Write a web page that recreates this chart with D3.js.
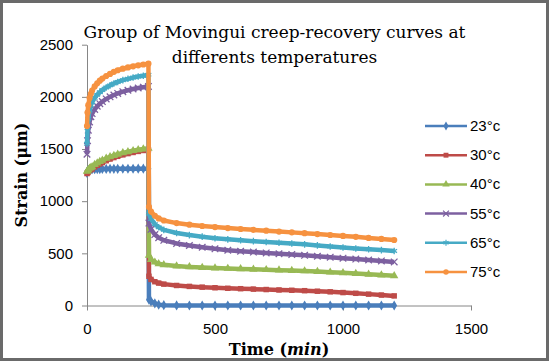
<!DOCTYPE html>
<html>
<head>
<meta charset="utf-8">
<script src="https://cdn.jsdelivr.net/npm/d3@7"></script>
<style>
  body { margin: 0; background: #fff; }
  svg { display: block; }
</style>
</head>
<body>
<div id="chart"></div>
<script>
// time in minutes: creep 0-240, recovery 242-1200
var times = [0,2,5,10,15,20,30,40,50,60,75,90,105,120,140,160,180,200,220,240,
  242,250,265,280,300,350,400,450,500,550,600,650,700,750,800,850,900,950,1000,1050,1100,1150,1200];

var s23 = [1270,1290,1298,1302,1305,1306,1307,1308,1308,1309,1309,1310,1310,1310,1311,1311,1311,1312,1312,1312,
  55,40,20,8,3,1,0,0,0,0,0,0,0,0,0,0,0,0,0,0,0,0,0];
var s30 = [1265,1272,1280,1295,1303,1310,1328,1343,1357,1370,1388,1404,1418,1430,1444,1456,1467,1477,1486,1494,
  280,250,228,215,205,192,183,176,170,165,161,157,153,149,146,142,137,131,124,117,109,100,92];
var s40 = [1285,1290,1300,1315,1323,1330,1350,1365,1380,1392,1410,1425,1438,1450,1463,1474,1484,1493,1500,1507,
  480,440,415,400,390,378,370,364,359,355,351,347,343,339,335,331,325,319,313,306,299,292,285];
var s55 = [1450,1580,1680,1760,1810,1840,1880,1910,1935,1955,1980,2000,2018,2033,2050,2063,2075,2085,2093,2100,
  790,730,680,650,625,595,575,558,543,530,520,512,504,496,489,481,472,463,454,445,436,427,418];
var s65 = [1550,1700,1790,1870,1920,1950,1990,2020,2045,2065,2090,2110,2128,2143,2160,2173,2185,2195,2203,2212,
  880,830,780,750,725,695,675,660,645,634,625,617,609,601,594,586,576,566,556,547,539,531,523];
var s75 = [1720,1850,1920,1990,2030,2060,2100,2130,2155,2175,2200,2220,2240,2255,2270,2282,2293,2302,2310,2318,
  945,900,860,835,815,790,775,762,752,742,733,725,717,709,701,693,685,676,667,658,648,638,628];

var seriesNames = ["23°c", "30°c", "40°c", "55°c", "65°c", "75°c"];
var seriesValues = [s23, s30, s40, s55, s65, s75];
var colors = ["#4A7EBB", "#BE4B48", "#98B954", "#7D60A0", "#46AAC5", "#F69240"];
var xTicks = [0, 500, 1000, 1500];
var yTicks = [0, 500, 1000, 1500, 2000, 2500];

var W = 549, H = 361;
var svg = d3.select("#chart").append("svg")
  .attr("width", W)
  .attr("height", H);

svg.append("rect")
  .attr("x", 1.5).attr("y", 1.5)
  .attr("width", W - 3).attr("height", H - 3)
  .attr("fill", "#fff")
  .attr("stroke", "#6a6a6a")
  .attr("stroke-width", 3);

var x = d3.scaleLinear().domain([0, 1500]).range([87, 471]);
var y = d3.scaleLinear().domain([0, 2500]).range([305.5, 44.7]);

// axes
var xAxis = svg.append("g")
  .attr("transform", "translate(0," + y(0) + ")")
  .call(d3.axisBottom(x).tickValues(xTicks).tickFormat(d3.format("d"))
    .tickSize(5).tickPadding(13).tickSizeOuter(0));
var yAxis = svg.append("g")
  .attr("transform", "translate(" + x(0) + ",0)")
  .call(d3.axisLeft(y).tickValues(yTicks).tickFormat(d3.format("d"))
    .tickSize(5).tickPadding(9).tickSizeOuter(0));

[xAxis, yAxis].forEach(function (a) {
  a.select(".domain").attr("stroke", "#868686");
  a.selectAll(".tick line").attr("stroke", "#868686");
  a.selectAll(".tick text")
    .attr("fill", "#000")
    .style("font-family", "'Liberation Sans', Arial, sans-serif")
    .style("font-size", "15px");
});

var symbols = [
  d3.symbolDiamond,
  d3.symbolSquare,
  d3.symbolTriangle,
  d3.symbolX || d3.symbolCross,
  d3.symbolAsterisk || d3.symbolStar,
  d3.symbolCircle
];
var strokeSym = [false, false, false, true, true, false];

var line = d3.line()
  .x(function (d) { return x(d[0]); })
  .y(function (d) { return y(d[1]); });

seriesValues.forEach(function (vals, i) {
  var pts = times.map(function (t, j) { return [t, vals[j]]; });
  svg.append("path")
    .datum(pts)
    .attr("d", line)
    .attr("fill", "none")
    .attr("stroke", colors[i])
    .attr("stroke-width", 4.5)
    .attr("stroke-linejoin", "round");

  svg.selectAll(".m" + i)
    .data(pts)
    .enter().append("path")
    .attr("transform", function (d) { return "translate(" + x(d[0]) + "," + y(d[1]) + ")"; })
    .attr("d", d3.symbol().type(symbols[i]).size(30))
    .attr("fill", strokeSym[i] ? "none" : colors[i])
    .attr("stroke", colors[i])
    .attr("stroke-width", strokeSym[i] ? 1.3 : 0);
});

// legend
var legend = svg.append("g");
seriesNames.forEach(function (name, i) {
  var ly = 126 + i * 29.2;
  legend.append("line")
    .attr("x1", 425).attr("x2", 467)
    .attr("y1", ly).attr("y2", ly)
    .attr("stroke", colors[i])
    .attr("stroke-width", 2.5);
  legend.append("path")
    .attr("transform", "translate(446," + ly + ")")
    .attr("d", d3.symbol().type(symbols[i]).size(24))
    .attr("fill", strokeSym[i] ? "none" : colors[i])
    .attr("stroke", colors[i])
    .attr("stroke-width", strokeSym[i] ? 1.2 : 0);
  legend.append("text")
    .attr("x", 470).attr("y", ly + 5)
    .style("font-family", "'Liberation Sans', Arial, sans-serif")
    .style("font-size", "15px")
    .text(name);
});

// title
var title = svg.append("text")
  .attr("text-anchor", "middle")
  .style("font-family", "'DejaVu Serif', serif")
  .style("font-size", "17px");
title.append("tspan").attr("x", 274.5).attr("y", 38).text("Group of Movingui creep-recovery curves at");
title.append("tspan").attr("x", 274.5).attr("y", 63).text("differents temperatures");

// axis titles
svg.append("text")
  .attr("transform", "translate(27,175) rotate(-90)")
  .attr("text-anchor", "middle")
  .style("font-family", "'DejaVu Serif', serif")
  .style("font-size", "16px")
  .style("font-weight", "bold")
  .text("Strain (μm)");

var xt = svg.append("text")
  .attr("x", 279).attr("y", 355)
  .attr("text-anchor", "middle")
  .style("font-family", "'DejaVu Serif', serif")
  .style("font-size", "16px")
  .style("font-weight", "bold");
xt.append("tspan").text("Time (");
xt.append("tspan").style("font-style", "italic").text("min");
xt.append("tspan").text(")");
</script>
</body>
</html>
